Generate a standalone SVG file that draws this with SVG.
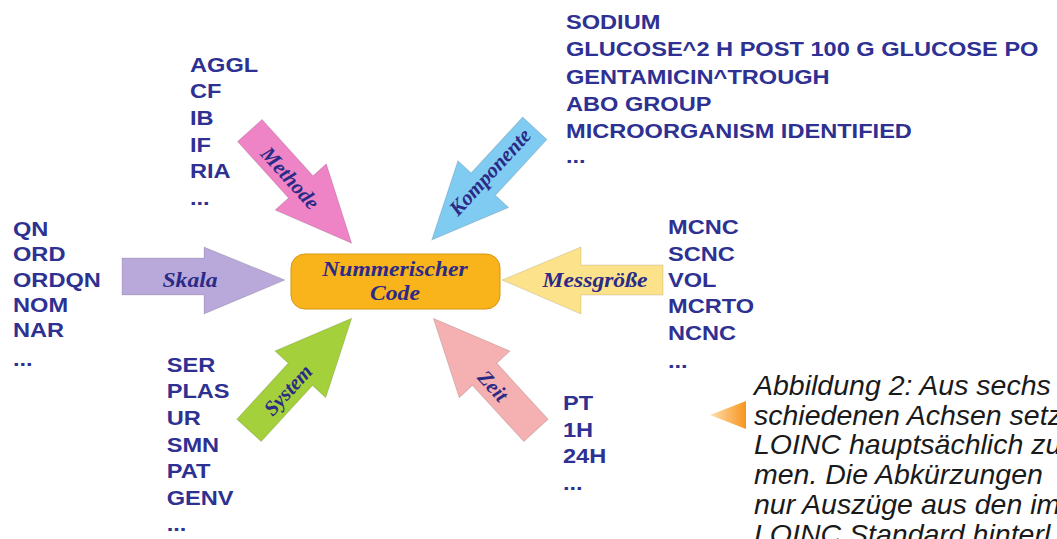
<svg xmlns="http://www.w3.org/2000/svg" width="1057" height="539" viewBox="0 0 1057 539">
<defs>
<style>
.lst{font-family:"Liberation Sans",Arial,sans-serif;font-weight:bold;font-size:20px;fill:#2E3092}
.lbl{font-family:"Liberation Serif","Times New Roman",serif;font-weight:bold;font-style:italic;font-size:20px;fill:#2B2A86;text-anchor:middle}
.dg{font-size:21px}
.cap{font-family:"Liberation Sans",Arial,sans-serif;font-style:italic;font-size:28.5px;fill:#1a1a1a}
.arr{stroke:#000;stroke-opacity:.12;stroke-width:1}
</style>
<path id="darr" d="M0,0 L-76,-34.5 L-76,-16.5 L-152,-16.5 L-152,16.5 L-76,16.5 L-76,34.5 Z"/>
<linearGradient id="pg" x1="0" x2="1" y1="0" y2="0">
<stop offset="0" stop-color="#FDE0B0"/>
<stop offset="1" stop-color="#F7941D"/>
</linearGradient>
</defs>
<rect width="1057" height="539" fill="#fff"/>

<g id="connectors">
<g id="arrow-skala">
<polygon class="arr" fill="#B9A9DA" points="122,258 204,258 204,247 285,280 204,314 204,295 122,295"/>
<text class="lbl" transform="translate(190,287) scale(1.18,1)">Skala</text>
</g>
<g id="arrow-messgroesse">
<polygon class="arr" fill="#FDE28C" points="663,265 581,265 581,247 502,280 581,314 581,295 663,295"/>
<text class="lbl" transform="translate(595,287) scale(1.18,1)">Messgröße</text>
</g>
<g id="arrow-methode">
<use href="#darr" class="arr" fill="#EE84C6" transform="translate(351.7,243.3) rotate(47.9)"/>
<text class="lbl dg" transform="translate(290,178) rotate(48)" y="7">Methode</text>
</g>
<g id="arrow-komponente">
<use href="#darr" class="arr" fill="#7FCBF1" transform="translate(431.7,240) rotate(132.7)"/>
<text class="lbl dg" transform="translate(490,172) rotate(-47.3)" y="7">Komponente</text>
</g>
<g id="arrow-system">
<use href="#darr" class="arr" fill="#A3D03B" transform="translate(351.7,318.3) rotate(-47.5)"/>
<text class="lbl dg" transform="translate(288,390) rotate(-47.5)" y="7">System</text>
</g>
<g id="arrow-zeit">
<use href="#darr" class="arr" fill="#F5B0B1" transform="translate(433.3,318.3) rotate(-132.5)"/>
<text class="lbl dg" transform="translate(493,386) rotate(47.5)" y="7">Zeit</text>
</g>
</g>

<g id="node-center">
<rect x="291" y="254" width="209" height="55" rx="14" fill="#F9B31B" stroke="#D8950E" stroke-width="1"/>
<text class="lbl" transform="translate(395,276) scale(1.18,1)">Nummerischer</text>
<text class="lbl" transform="translate(395,300) scale(1.18,1)">Code</text>
</g>

<g id="list-skala" transform="translate(13,0) scale(1.18,1)">
<text class="lst" y="236">QN</text>
<text class="lst" y="261">ORD</text>
<text class="lst" y="287">ORDQN</text>
<text class="lst" y="312">NOM</text>
<text class="lst" y="337">NAR</text>
<text class="lst" y="366">...</text>
</g>

<g id="list-methode" transform="translate(190,0) scale(1.18,1)">
<text class="lst" y="71.7">AGGL</text>
<text class="lst" y="98.3">CF</text>
<text class="lst" y="125">IB</text>
<text class="lst" y="151.7">IF</text>
<text class="lst" y="178.3">RIA</text>
<text class="lst" y="205">...</text>
</g>

<g id="list-komponente" transform="translate(566,0) scale(1.18,1)">
<text class="lst" y="29">SODIUM</text>
<text class="lst" y="56.5">GLUCOSE^2 H POST 100 G GLUCOSE PO</text>
<text class="lst" y="84">GENTAMICIN^TROUGH</text>
<text class="lst" y="111">ABO GROUP</text>
<text class="lst" y="138">MICROORGANISM IDENTIFIED</text>
<text class="lst" y="163">...</text>
</g>

<g id="list-messgroesse" transform="translate(668,0) scale(1.18,1)">
<text class="lst" y="234.5">MCNC</text>
<text class="lst" y="260.7">SCNC</text>
<text class="lst" y="287">VOL</text>
<text class="lst" y="313.5">MCRTO</text>
<text class="lst" y="340">NCNC</text>
<text class="lst" y="368">...</text>
</g>

<g id="list-system" transform="translate(166.7,0) scale(1.18,1)">
<text class="lst" y="371.7">SER</text>
<text class="lst" y="398.3">PLAS</text>
<text class="lst" y="425">UR</text>
<text class="lst" y="451.7">SMN</text>
<text class="lst" y="478.3">PAT</text>
<text class="lst" y="505">GENV</text>
<text class="lst" y="531">...</text>
</g>

<g id="list-zeit" transform="translate(563,0) scale(1.18,1)">
<text class="lst" y="410">PT</text>
<text class="lst" y="436.7">1H</text>
<text class="lst" y="463.3">24H</text>
<text class="lst" y="490">...</text>
</g>

<g id="caption">
<polygon fill="url(#pg)" points="710,415 746,401 746,429"/>
<text class="cap" x="754" y="395">Abbildung 2: Aus sechs</text>
<text class="cap" x="754" y="424.7">schiedenen Achsen setz</text>
<text class="cap" x="754" y="454.4">LOINC hauptsächlich zu</text>
<text class="cap" x="754" y="484.1">men. Die Abkürzungen</text>
<text class="cap" x="754" y="513.8">nur Auszüge aus den im</text>
<text class="cap" x="754" y="544">LOINC Standard hinterl</text>
</g>
</svg>
